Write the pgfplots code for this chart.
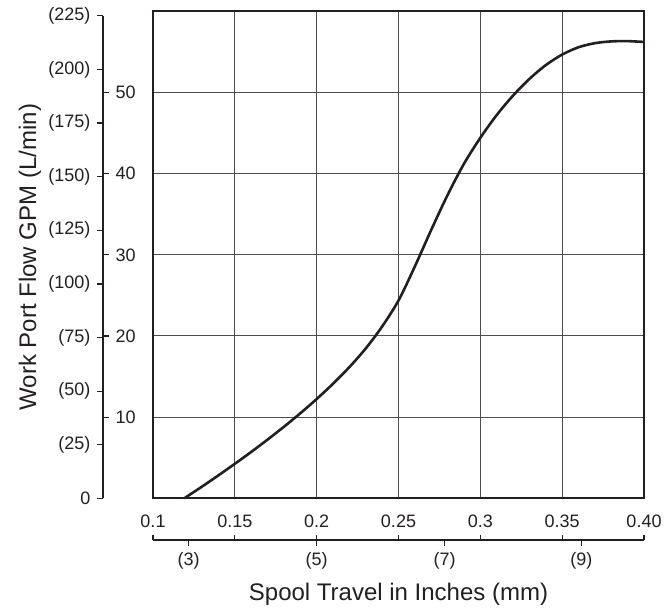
\documentclass[border=0pt]{standalone}
\usepackage{fontspec}
\setmainfont{Liberation Sans}
\usepackage{pgfplots}
\usepackage{pgfplotstable}
\pgfplotsset{compat=1.18}

\definecolor{ink}{HTML}{231F20}
\definecolor{gridc}{HTML}{4D4D4D}

\pgfplotstableread{
x y
0.1191 0
0.13 1.45
0.14 2.83
0.15 4.25
0.16 5.71
0.17 7.23
0.18 8.81
0.19 10.47
0.20 12.23
0.21 14.11
0.22 16.16
0.23 18.46
0.24 21.16
0.25 24.36
0.26 28.56
0.27 33.06
0.28 37.36
0.29 41.2
0.30 44.4
0.31 47.2
0.32 49.6
0.33 51.65
0.34 53.35
0.35 54.65
0.36 55.55
0.37 56.05
0.38 56.27
0.39 56.3
0.40 56.2
}\flow

\pgfplotsset{
  scaleaxis/.style={
    scale only axis,
    tick align=outside,
    major tick length=2.75pt,
    tick style={line width=0.6pt, ink},
    axis line style={line width=0.6pt, ink},
    ticklabel style={font=\fontsize{9}{10}\selectfont, text=ink},
    label style={font=\fontsize{12}{14}\selectfont, text=ink},
  },
}

\begin{document}
\begin{tikzpicture}
% main plot area
\begin{axis}[
  scale only axis, width=245.5pt, height=243.6pt,
  xmin=0.1, xmax=0.4, ymin=0, ymax=60,
  xtick={0.15,0.2,0.25,0.3,0.35}, ytick={10,20,30,40,50},
  xticklabels={}, yticklabels={}, major tick length=0pt,
  grid=major, grid style={line width=0.55pt, gridc},
  axis line style={line width=1.1pt, ink},
]
\addplot[smooth, line width=1.3pt, ink] table {\flow};
\end{axis}

% left scale, L/min
\begin{axis}[scaleaxis,
  at={(-25pt,0pt)}, anchor=south west, width=10pt, height=241.2pt,
  xmin=0, xmax=1, ymin=0, ymax=225,
  axis y line*=left, axis x line=none,
  ytick={0,25,50,75,100,125,150,175,200,225},
  yticklabels={0,(25),(50),(75),(100),(125),(150),(175),(200),(225)},
  ylabel={Work Port Flow GPM (L/min)},
  ylabel style={at={(axis description cs:0,0.5)}, anchor=center, yshift=36.5pt},
]
\end{axis}

% left scale, GPM
\begin{axis}[scaleaxis,
  at={(-25pt,0pt)}, anchor=south east, width=10pt, height=241.2pt,
  xmin=0, xmax=1, ymin=0, ymax=59.44,
  axis y line*=right, axis x line=none,
  ytick={10,20,30,40,50}, yticklabels={10,20,30,40,50},
]
\end{axis}

% bottom scale, inches
\begin{axis}[scaleaxis,
  at={(0pt,-20.85pt)}, anchor=north west, width=245.5pt, height=10pt,
  xmin=0.1, xmax=0.4, ymin=0, ymax=1,
  axis x line*=top, axis y line=none,
  xtick={0.1,0.15,0.2,0.25,0.3,0.35,0.4},
  xticklabels={0.1,0.15,0.2,0.25,0.3,0.35,0.40},
]
\end{axis}

% bottom scale, mm
\begin{axis}[scaleaxis,
  at={(0pt,-20.85pt)}, anchor=south west, width=245.5pt, height=10pt,
  xmin=0.1, xmax=0.4, ymin=0, ymax=1,
  axis x line*=bottom, axis y line=none,
  xtick={0.1218,0.2,0.2782,0.3617},
  xticklabels={(3),(5),(7),(9)},
  xlabel={Spool Travel in Inches (mm)},
]
\end{axis}

\path (-76.5pt,-53.35pt) rectangle (259.5pt,249.15pt);
\end{tikzpicture}
\end{document}
